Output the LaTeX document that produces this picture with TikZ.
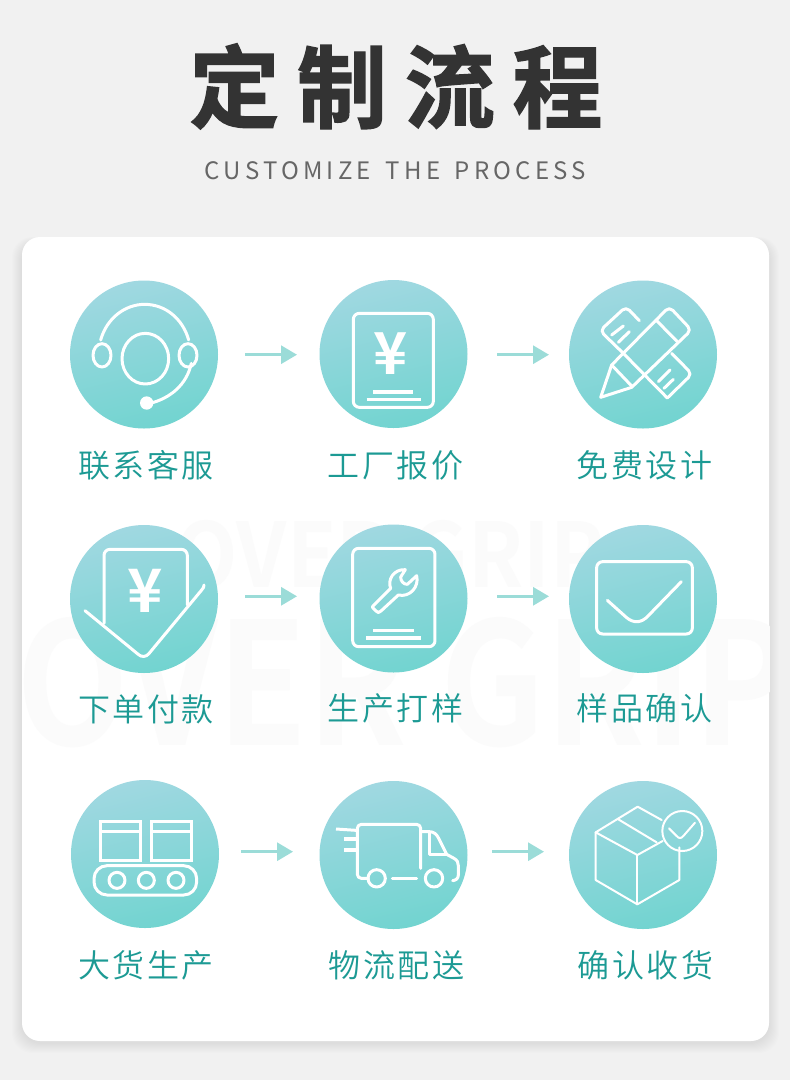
\documentclass[tikz,border=0pt]{standalone}
\usepackage{fontspec}
\usetikzlibrary{arrows.meta}
\newfontfamily\titlefont[LetterSpace=19.7,FakeBold=1.6]{Noto Sans CJK SC Bold}
\newfontfamily\subfont[LetterSpace=17.7]{Noto Sans CJK SC}
\newfontfamily\lblfont[LetterSpace=8]{Noto Sans CJK SC DemiLight}
\newfontfamily\boldcjk{Noto Sans CJK SC Bold}
\definecolor{pagebg}{HTML}{F1F1F1}
\definecolor{wm}{HTML}{FBFBFB}
\definecolor{lbl}{HTML}{1C9A94}
\definecolor{arrowc}{HTML}{9BDCD8}
\definecolor{ctop}{HTML}{A0D8E1}
\definecolor{cbot}{HTML}{72D4D0}
\tikzset{
 disc/.style={circle,minimum size=148pt,inner sep=0pt,outer sep=0pt,draw=none,shading=axis,top color=ctop,bottom color=cbot,shading angle=14},
 lab/.style={anchor=base,text=lbl,inner sep=0pt,font=\lblfont\fontsize{32}{36}\selectfont},
 flow/.style={draw=arrowc,line width=3pt,-{Triangle[length=16pt,width=18pt]}},
 icon/.style={draw=white,line width=3pt,line cap=round,line join=round},
 bar/.style={icon,line cap=butt,line width=3.6pt},
 thinicon/.style={draw=white,line width=2pt,line cap=round,line join=round},
 yen/.style={anchor=base,text=white,inner sep=0pt,font=\boldcjk\fontsize{58}{60}\selectfont},
}
\begin{document}
\begin{tikzpicture}[x=1pt,y=-1pt]
\useasboundingbox (0,0) rectangle (790,1080);
\fill[pagebg] (0,0) rectangle (790,1080);
% card shadow
\foreach \s in {1,2,...,10}{
 \fill[black,opacity=0.009,rounded corners=20pt] (22-\s,242-0.5*\s) rectangle (769+\s,1043+\s);
}
\fill[white,rounded corners=18pt] (22,237) rectangle (769,1041);
% watermark
\begin{scope}
\clip[rounded corners=18pt] (22,237) rectangle (769,1041);
\node[anchor=base,inner sep=0pt,text=wm,xscale=0.91,font=\boldcjk\fontsize{89}{90}\selectfont] (wmup) at (390,587) {OVER GRIP};
\node[anchor=base west,inner sep=0pt,text=wm,xscale=0.86,font=\boldcjk\fontsize{170}{170}\selectfont] (wmdn) at (16,745) {OVER GRIP};
\end{scope}
% title
\node[anchor=base,inner sep=0pt,text=black!80,font=\titlefont\fontsize{90}{90}\selectfont] (title) at (396,121) {定制流程};
\node[anchor=base,inner sep=0pt,text=black!60,font=\subfont\fontsize{24}{28}\selectfont] (subtitle) at (395.5,179) {CUSTOMIZE\hspace{5pt} THE\hspace{5pt} PROCESS};
% discs
\node[disc] (c1) at (144,354.5) {};
\node[disc] (c2) at (393.5,354) {};
\node[disc] (c3) at (643,354.5) {};
\node[disc] (c4) at (144,599) {};
\node[disc] (c5) at (393.5,598.5) {};
\node[disc] (c6) at (643,599) {};
\node[disc] (c7) at (145,854) {};
\node[disc] (c8) at (393.5,855) {};
\node[disc] (c9) at (643,855) {};
% labels
\node[lab] (l1) at (146,477) {联系客服};
\node[lab] (l2) at (395.5,477) {工厂报价};
\node[lab] (l3) at (644.5,477) {免费设计};
\node[lab] (l4) at (146,721) {下单付款};
\node[lab] (l5) at (395.5,720.5) {生产打样};
\node[lab] (l6) at (644.5,720.5) {样品确认};
\node[lab] (l7) at (146,977) {大货生产};
\node[lab] (l8) at (396.5,977) {物流配送};
\node[lab] (l9) at (645.5,977) {确认收货};
% arrows
\coordinate (a1s) at (245,354.7); \coordinate (a1e) at (297,354.7);
\coordinate (a2s) at (497,354.7); \coordinate (a2e) at (549,354.7);
\coordinate (a3s) at (245,596.3); \coordinate (a3e) at (297,596.3);
\coordinate (a4s) at (497,596.3); \coordinate (a4e) at (549,596.3);
\coordinate (a5s) at (241,851.7); \coordinate (a5e) at (293,851.7);
\coordinate (a6s) at (492,851.7); \coordinate (a6e) at (544,851.7);
\foreach \i in {1,...,6}{\draw[flow] (a\i s) -- (a\i e);}
% icon 1 headset
\begin{scope}[shift={(50,270)},x=0.33333pt,y=-0.33333pt]
\draw[icon] (156,256) ellipse [x radius=27,y radius=35];
\draw[icon] (414,256) ellipse [x radius=27,y radius=35];
\draw[icon] (286,266) ellipse [x radius=70,y radius=76];
\draw[icon] (152,210) .. controls (170,145) and (225,103) .. (284,103) .. controls (345,103) and (398,145) .. (416,210);
\draw[icon] (424,280) .. controls (410,345) and (360,385) .. (300,400);
\fill[white] (290,399) circle [radius=20];
\end{scope}
% icon 2 quote
\begin{scope}[shift={(300,270)},x=0.33333pt,y=-0.33333pt]
\draw[icon,rounded corners=6pt] (160,130) rectangle (400,412);
\draw[bar] (220,366) -- (340,366);
\draw[bar] (200,388) -- (362,388);
\end{scope}
\node[yen] (yen1) at (390.7,374) {¥};
% icon 3 pencil and ruler
\begin{scope}[shift={(590,300)},x=0.33333pt,y=-0.33333pt]
\draw[icon] (32,292) -- (65,195) [rounded corners=5pt] -- (238,20) -- (304,90) [sharp corners] -- (125,262) -- cycle;
\draw[icon] (198,60) -- (262,125);
\draw[icon] (65,195) -- (125,258);
\draw[icon,rounded corners=5pt] (148,62) -- (108,20) -- (30,92) -- (100,160) [sharp corners] -- (232,294) [rounded corners=5pt] -- (306,222) -- (245,160);
\draw[icon] (65,105) -- (100,78);
\draw[icon] (85,127) -- (118,95);
\draw[icon] (205,245) -- (240,210);
\draw[icon] (222,265) -- (250,238);
\end{scope}
% icon 4 order
\begin{scope}[shift={(50,515)},x=0.33333pt,y=-0.33333pt]
\draw[icon,rounded corners=6pt] (162,325) -- (162,103) -- (412,103) -- (412,270);
\draw[icon,rounded corners=7pt] (105,287) -- (282.7,432.8) -- (455,225);
\draw[icon] (455,225) .. controls (460,220) and (462,216) .. (462,210);
\end{scope}
\node[yen,font=\boldcjk\fontsize{60}{60}\selectfont] (yen2) at (145.3,612) {¥};
% icon 5 wrench document
\begin{scope}[shift={(50,515)},x=0.33333pt,y=-0.33333pt]
\draw[icon,rounded corners=6pt] (908,100) rectangle (1155,395);
\draw[bar] (970,346) -- (1093,346);
\draw[bar] (948,369) -- (1112,369);
\end{scope}
\begin{scope}[shift={(360,555)},x=0.33333pt,y=-0.33333pt]
\draw[icon] (40,152) -- (92,100) .. controls (82,75) and (100,42) .. (136,44) -- (122,66) .. controls (122,78) and (130,88) .. (142,88) -- (170,62) .. controls (178,95) and (150,128) .. (115,120) -- (63,168) .. controls (57,174) and (53,174) .. (48,168) -- (40,160) .. controls (36,156) and (36,156) .. (40,152) -- cycle;
\end{scope}
% icon 6 envelope
\begin{scope}[shift={(480,515)},x=0.33333pt,y=-0.33333pt]
\draw[icon,rounded corners=6pt] (350,140) rectangle (637,357);
\draw[icon] (382,256) -- (440,308) .. controls (462,326) and (485,324) .. (505,302) -- (604,200);
\end{scope}
% icon 7 conveyor
\begin{scope}[shift={(50,770)},x=0.33333pt,y=-0.33333pt]
\draw[icon,line join=miter] (152,155) rectangle (272,272);
\draw[icon,line cap=butt] (152,185) -- (272,185);
\draw[icon,line join=miter] (304,155) rectangle (425,272);
\draw[icon,line cap=butt] (304,185) -- (425,185);
\draw[icon,rounded corners=13pt] (132,287) rectangle (440,375);
\draw[icon] (201,331) circle [radius=24];
\draw[icon] (289,331) circle [radius=24];
\draw[icon] (378,331) circle [radius=24];
\end{scope}
% icon 8 truck
\begin{scope}[shift={(330,815)},x=0.33333pt,y=-0.33333pt]
\draw[icon,rounded corners=4pt] (272,160) -- (272,28) -- (82,28) -- (82,190) -- (115,190);
\draw[icon,line cap=butt] (18,42) -- (78,46);
\draw[bar] (42,72) -- (82,72);
\draw[bar] (42,105) -- (82,105);
\draw[icon] (140,190) circle [radius=26];
\draw[icon] (312,190) circle [radius=26];
\draw[icon] (187,190) -- (260,190);
\draw[icon] (275,50) -- (298,50) .. controls (312,50) and (320,58) .. (326,70) -- (350,118) -- (372,130) .. controls (382,136) and (385,142) .. (385,152) -- (385,180) .. controls (385,190) and (378,196) .. (368,197);
\draw[icon] (298,52) -- (298,118) -- (350,118);
\end{scope}
% icon 9 parcel
\begin{scope}[shift={(480,770)},x=0.33333pt,y=-0.33333pt]
\draw[thinicon] (545,150) -- (473,110) -- (347,187) -- (472,255) -- (548,213);
\draw[thinicon] (472,255) -- (472,403);
\draw[thinicon] (347,187) -- (347,330) -- (472,403) -- (598,330) -- (598,232);
\draw[thinicon] (415,148) -- (530,217);
\draw[thinicon] (607,183) circle [radius=60];
\draw[thinicon] (567,175) -- (590,198) .. controls (597,206) and (603,206) .. (610,198) -- (645,158);
\end{scope}
\end{tikzpicture}
\end{document}
